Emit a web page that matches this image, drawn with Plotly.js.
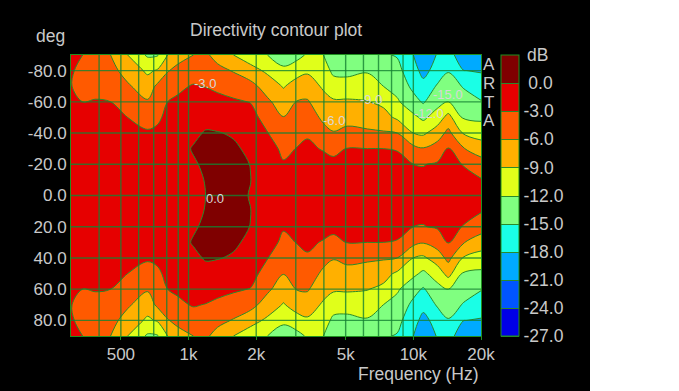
<!DOCTYPE html>
<html><head><meta charset="utf-8">
<script src="https://cdn.plot.ly/plotly-3.0.1.min.js"></script>
<style>html,body{margin:0;padding:0;background:#fff}#c{width:590px;height:391px}</style>
</head><body><div id="c"></div>
<script>
// Frequencies of the measured columns (Hz)
const freqs=[300,338,386,450,536,657,728,807,893,1052,1190,1345,1585,1886,2244,2644,3050,3380,3981,4410,5090,6247,7356,8488,10000,11075,12790,14310,16680,20000];
// One list per off-axis angle, 0 to 90 degrees; the polar pattern is mirrored for negative angles
const a0 =[-1.5,-1.5,-1.3,-1.2,-1.0,-0.8,-0.7,-0.6,-0.4,-0.3,0.0,0.3,0.3,-0.05,-0.6,-1.5,-1.0,-0.9,-1.0,-1.0,-1.0,-1.0,-1.0,-1.0,-1.5,-1.8,-1.5,-1.0,-1.8,-2.2];
const a10=[-1.5,-1.5,-1.3,-1.2,-1.0,-0.8,-0.7,-0.6,-0.4,-0.3,0.05,0.4,0.3,0.02,-0.8,-2.0,-1.3,-1.1,-1.3,-1.5,-1.3,-1.3,-1.3,-1.3,-2.2,-2.4,-2.0,-1.3,-2.4,-2.8];
const a20=[-1.5,-1.5,-1.4,-1.3,-1.1,-0.9,-0.8,-0.7,-0.4,-0.2,0.3,0.45,0.3,-0.02,-1.2,-2.8,-2.0,-1.6,-2.0,-2.4,-2.0,-2.0,-2.0,-2.0,-3.0,-3.1,-2.7,-1.9,-3.1,-4.7];
const a30=[-1.6,-1.6,-1.5,-1.5,-1.3,-1.2,-1.1,-1.0,-0.7,0.15,0.4,0.4,0.3,-0.4,-2.0,-3.5,-2.9,-2.5,-3.2,-3.6,-2.9,-3.0,-3.0,-3.2,-5.2,-5.8,-4.7,-2.9,-5.8,-7.5];
const a40=[-1.7,-1.8,-1.7,-1.7,-2.0,-2.6,-2.4,-1.5,-1.2,-0.4,0.15,0.1,-0.2,-1.0,-2.9,-4.7,-3.7,-3.3,-5.0,-5.8,-5.2,-5.5,-5.7,-6.0,-9.0,-9.5,-7.5,-5.2,-9.2,-10.2];
const a50=[-2.0,-2.3,-2.2,-2.3,-3.0,-4.3,-3.5,-2.3,-1.9,-1.0,-0.6,-0.9,-1.5,-1.9,-4.2,-5.9,-4.6,-4.4,-6.6,-7.5,-7.0,-7.4,-8.0,-9.5,-11.3,-12.6,-10.6,-8.0,-12.3,-12.6];
const a60=[-2.5,-3.0,-2.9,-3.0,-4.2,-5.7,-4.5,-3.0,-2.6,-1.8,-1.6,-2.0,-2.6,-3.1,-5.4,-7.7,-5.8,-5.7,-8.0,-8.6,-8.6,-8.9,-9.6,-11.6,-14.0,-15.3,-13.0,-12.0,-13.7,-14.8];
const a70=[-2.95,-3.5,-3.5,-4.0,-5.6,-7.6,-5.4,-4.2,-3.5,-2.8,-3.1,-3.7,-4.3,-4.9,-7.5,-9.2,-7.8,-7.6,-9.4,-10.8,-10.8,-10.4,-12.0,-13.1,-15.7,-17.0,-14.7,-13.6,-15.2,-16.8];
const a80=[-2.8,-3.5,-4.1,-5.0,-7.2,-9.5,-8.7,-6.2,-5.2,-4.3,-4.3,-5.2,-6.2,-8.0,-9.5,-11.6,-10.0,-9.4,-10.7,-12.6,-12.8,-12.3,-13.5,-14.2,-16.8,-19.0,-16.7,-15.2,-17.95,-18.2];
const a90=[-2.5,-3.0,-4.6,-6.0,-9.0,-12.4,-12.2,-9.0,-7.2,-6.0,-5.5,-7.0,-9.0,-10.5,-12.0,-13.0,-13.0,-11.6,-12.0,-13.8,-13.8,-14.0,-14.7,-15.2,-18.0,-20.0,-17.8,-17.0,-19.5,-19.5];
const halfAngles=[0,10,20,30,40,50,60,70,80,90];
const halfRows=[a0,a10,a20,a30,a40,a50,a60,a70,a80,a90];

// Plot annotations and scales
const yTicks=[-80,-60,-40,-20,0,20,40,60,80];
const yTickText=['-80.0','-60.0','-40.0','-20.0','0.0','20.0','40.0','60.0','80.0'];
const xTicks=[500,1000,2000,5000,10000,20000];
const xTickText=['500','1k','2k','5k','10k','20k'];
const gridFreqs=[400,500,600,700,800,900,1000,2000,3000,4000,5000,6000,7000,8000,9000,10000];
const barTicks=[0,-3,-6,-9,-12,-15,-18,-21,-24,-27];
const barText=['\u00a00.0','-3.0','-6.0','-9.0','-12.0','-15.0','-18.0','-21.0','-24.0','-27.0'];
const bandColors=['#0000e6','#0055ff','#00aaff','#1affe6','#80ff80','#e0ff1a','#ffb000','#ff5a00','#e60000','#7f0000'];
const labelText=['-3.0','0.0','-6.0','-9.0','-12.0','-15.0'];
const labelFreq=[1178,1305,4454,6510,11760,14300];
const labelDeg=[-72,2,-48,-61.5,-52.6,-65];
const brandLetters=['A','R','T','A'];
const brandRows=[64,83,102,120];

const angles=[...halfAngles.slice(1).reverse().map(a=>-a),...halfAngles];
const z=[...halfRows.slice(1).reverse(),...halfRows];

// Plotly evaluates a filled band at its upper level, so each colour step is centred on that level
const scale=[];
bandColors.forEach((c,i)=>{scale.push([i?(i+0.5)/10:0,c]);scale.push([i<9?(i+1.5)/10:1,c]);});

const grey='#c9c9c9';
const font='"Liberation Sans",Arial,sans-serif';
const gridLine={color:'rgba(20,130,50,0.8)',width:1.4};
const shapes=[
 ...gridFreqs.map(f=>({type:'line',layer:'above',xref:'x',yref:'paper',x0:f,x1:f,y0:0,y1:1,line:gridLine})),
 ...yTicks.map(a=>({type:'line',layer:'above',xref:'paper',yref:'y',x0:0,x1:1,y0:a,y1:a,line:gridLine}))
];
const anns=labelText.map((t,i)=>({text:t,x:Math.log10(labelFreq[i]),y:labelDeg[i],xref:'x',yref:'y',showarrow:false,font:{family:font,size:13,color:'#d8d8d8'}}));
const note=(text,x,y,size,xa,ya)=>({text,x,y,xref:'paper',yref:'paper',xanchor:xa,yanchor:ya,showarrow:false,font:{family:font,size,color:grey},align:'center'});
anns.push(note('Directivity contour plot',(276-71)/410,(336-30)/281,17.5,'center','middle'));
anns.push(note('deg',(50-71)/410,(336-36)/281,17.5,'center','middle'));
anns.push(note('Frequency (Hz)',1,(336-374)/281,17.5,'right','middle'));
brandLetters.forEach((t,i)=>anns.push(note(t,(489-71)/410,(336-brandRows[i])/281,17,'center','middle')));
anns.push(note('dB',(537-71)/410,(336-55)/281,17.5,'center','middle'));

Plotly.newPlot('c',[{
 type:'contour',x:freqs,y:angles,z:z,
 zmin:-27,zmax:3,autocontour:false,
 contours:{start:-27,end:0,size:3,coloring:'fill',showlines:true},
 line:{color:'#2a8a2a',width:1,smoothing:1},
 colorscale:scale,
 colorbar:{thicknessmode:'pixels',thickness:18,lenmode:'pixels',len:281,x:(501-71)/410,xanchor:'left',y:0.5,yanchor:'middle',xpad:0,ypad:0,
  outlinecolor:'#1f8f1f',outlinewidth:1,borderwidth:0,
  tickmode:'array',tickvals:barTicks,ticktext:barText,ticks:'',tickfont:{family:font,size:17.5,color:grey}},
 hoverinfo:'skip'
}],{
 width:590,height:391,paper_bgcolor:'#000',plot_bgcolor:'#000',
 margin:{l:71,r:109,t:55,b:55},showlegend:false,
 xaxis:{type:'log',range:[Math.log10(300),Math.log10(20000)],tickmode:'array',tickvals:xTicks,ticktext:xTickText,tickfont:{family:font,size:17,color:grey},showgrid:false,zeroline:false,showline:true,mirror:true,linecolor:'#1f8f1f',linewidth:1,ticks:'outside',ticklen:3,tickcolor:'#1f8f1f'},
 yaxis:{range:[90,-90],tickmode:'array',tickvals:yTicks,ticktext:yTickText,tickfont:{family:font,size:17,color:grey},showgrid:false,zeroline:false,showline:true,mirror:true,linecolor:'#1f8f1f',linewidth:1,ticks:''},
 shapes:shapes,annotations:anns
},{displayModeBar:false,staticPlot:true});
</script></body></html>
